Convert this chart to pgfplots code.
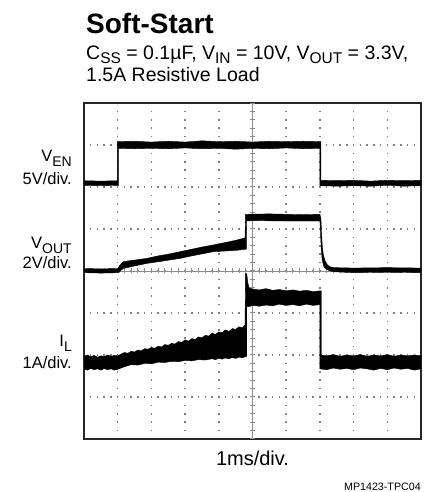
\documentclass[border=0pt]{standalone}
\usepackage{fontspec}
\setmainfont{Liberation Sans}
\usepackage{pgfplots}
\pgfplotsset{compat=1.18}
\newcommand\fs[1]{\fontsize{#1bp}{#1bp}\selectfont}
\newcommand\subA[1]{\raisebox{-4bp}{\fs{15.5}#1}}
\newcommand\subB[1]{\raisebox{-4.5bp}{\fs{14}#1}}
\begin{document}
\begin{tikzpicture}
\path[use as bounding box] (0,0) rectangle (448bp,492bp);
% titles
\node[anchor=base west, inner sep=0] at (86bp,458.7bp) {\fs{28}\bfseries Soft-Start};
\node[anchor=base west, inner sep=0] at (86bp,432.7bp) {\fs{19.5}C\subA{SS} = 0.1µF, V\subA{IN} = 10V, V\subA{OUT} = 3.3V,};
\node[anchor=base west, inner sep=0] at (86bp,410.3bp) {\fs{19.5}1.5A Resistive Load};
% side labels
\node[anchor=base east, inner sep=0] at (72bp,330.3bp) {\fs{16.5}V\subB{EN}};
\node[anchor=base east, inner sep=0] at (72bp,307bp) {\fs{16.5}5V/div.};
\node[anchor=base east, inner sep=0] at (72bp,243bp) {\fs{16.5}V\subB{OUT}};
\node[anchor=base east, inner sep=0] at (72bp,223.2bp) {\fs{16.5}2V/div.};
\node[anchor=base east, inner sep=0] at (72bp,145.3bp) {\fs{16.5}I\subB{L}};
\node[anchor=base east, inner sep=0] at (72bp,123.7bp) {\fs{16.5}1A/div.};
\node[anchor=base, inner sep=0] at (252.5bp,27bp) {\fs{20}1ms/div.};
\node[anchor=base east, inner sep=0] at (421bp,1.5bp) {\fs{10.7}MP1423-TPC04};
\begin{axis}[at={(84bp,53bp)}, anchor=south west, scale only axis,
  width=337bp, height=336bp, xmin=0, xmax=10, ymin=0, ymax=8,
  xtick={1,...,9}, ytick={1,...,7}, xticklabels={}, yticklabels={},
  tick style={draw=none}, major tick length=0pt, grid=major,
  major x grid style={black!50, line width=1.5bp, dash pattern=on 1.5bp off 6.9bp, dash phase=0.75bp},
  major y grid style={black!50, line width=1.5bp, dash pattern=on 1.5bp off 5.24bp, dash phase=0.75bp},
  axis line style={black!85, line width=2bp}]
% centre graticule
\draw[black!45, line width=0.7bp] (axis cs:0,4) -- (axis cs:10,4);
\draw[black!45, line width=5bp, dash pattern=on 1bp off 5.74bp, dash phase=0.5bp] (axis cs:0,4) -- (axis cs:10,4);
\draw[black!45, line width=0.7bp] (axis cs:5,0) -- (axis cs:5,8);
\draw[black!45, line width=5bp, dash pattern=on 1bp off 7.4bp, dash phase=0.5bp] (axis cs:5,0) -- (axis cs:5,8);
% V_EN
\addplot[fill=black, draw=black, line width=0.4bp] coordinates {
(0,6.15)(0.5,6.14)(0.99,6.15)(0.99,7.08)(1.5,7.09)(2,7.07)(2.5,7.09)(3,7.07)(3.5,7.10)(4,7.08)(4.5,7.09)(5,7.07)(5.5,7.09)(6,7.08)(6.5,7.09)(7.03,7.08)
(7.03,6.16)(7.5,6.15)(8,6.16)(8.5,6.14)(9,6.16)(9.5,6.15)(10,6.16)
(10,6.03)(9.5,6.02)(9,6.04)(8.5,6.02)(8,6.03)(7.5,6.02)(7.0,6.03)
(7.0,6.92)(6.5,6.91)(6,6.93)(5.5,6.91)(5,6.92)(4.5,6.90)(4,6.92)(3.5,6.91)(3,6.93)(2.5,6.91)(2,6.92)(1.5,6.91)(1.03,6.92)
(1.03,6.04)(0.5,6.03)(0,6.04)} -- cycle;
% V_OUT
\addplot[fill=black, draw=black, line width=0.4bp] coordinates {
(0,4.06)(0.5,4.05)(1.0,4.06)(1.05,4.12)(1.1,4.17)(1.17,4.22)(1.3,4.24)(1.5,4.26)(1.86,4.30)(2.2,4.36)(2.5,4.40)(2.85,4.46)(3.2,4.52)(3.5,4.57)(3.84,4.62)(4.2,4.68)(4.5,4.73)(4.78,4.79)
(4.79,5.35)(5.5,5.36)(6.5,5.34)(7.0,5.35)(7.03,5.25)(7.05,4.9)(7.07,4.6)(7.1,4.4)(7.15,4.25)(7.22,4.15)(7.3,4.1)(7.45,4.08)(8,4.07)(9,4.08)(10,4.07)
(10,3.96)(9,3.97)(8,3.96)(7.45,3.98)(7.3,4.0)(7.2,4.04)(7.12,4.1)(7.07,4.25)(7.04,4.5)(7.02,4.9)(7.0,5.19)(6,5.19)(5,5.2)(4.82,5.19)
(4.82,4.52)(4.5,4.49)(3.84,4.46)(3.2,4.36)(2.85,4.30)(2.2,4.22)(1.86,4.18)(1.5,4.12)(1.17,4.06)(1.1,4.02)(1.03,3.96)(0.5,3.95)(0,3.96)} -- cycle;
% I_L
\addplot[fill=black, draw=black, line width=0.4bp] coordinates {
(0,1.97)(0.1,2.0)(0.2,1.96)(0.3,1.99)(0.4,1.95)(0.5,1.98)(0.6,1.96)(0.7,2.0)(0.8,1.97)(0.9,1.99)(1.0,1.98)
(1.1,2.02)(1.2,2.06)(1.3,2.04)(1.4,2.09)(1.5,2.07)(1.6,2.12)(1.7,2.10)(1.8,2.15)(1.9,2.14)(2.0,2.18)(2.1,2.16)(2.2,2.21)(2.3,2.19)(2.4,2.25)(2.5,2.23)(2.6,2.28)(2.7,2.26)(2.8,2.32)(2.9,2.30)(3.0,2.36)(3.1,2.33)(3.2,2.39)(3.3,2.37)(3.4,2.43)(3.5,2.41)(3.6,2.47)(3.7,2.45)(3.8,2.52)(3.9,2.49)(4.0,2.55)(4.1,2.53)(4.2,2.60)(4.3,2.56)(4.4,2.63)(4.5,2.61)(4.6,2.67)(4.7,2.65)(4.78,2.72)
(4.79,3.94)(4.83,3.94)(4.86,3.72)(4.9,3.60)(5.0,3.57)(5.2,3.55)(5.4,3.58)(5.6,3.54)(5.8,3.56)(6.0,3.53)(6.2,3.55)(6.4,3.52)(6.6,3.54)(6.8,3.51)(7.04,3.53)
(7.04,2.0)(7.2,1.98)(7.4,2.01)(7.6,1.97)(7.8,2.0)(8.0,1.98)(8.2,2.01)(8.4,1.97)(8.6,2.0)(8.8,1.98)(9.0,2.01)(9.2,1.97)(9.4,2.0)(9.6,1.98)(9.8,2.0)(10,1.98)
(10,1.67)(9.8,1.64)(9.6,1.68)(9.4,1.66)(9.2,1.69)(9.0,1.65)(8.8,1.68)(8.6,1.64)(8.4,1.67)(8.2,1.69)(8.0,1.65)(7.8,1.68)(7.6,1.66)(7.4,1.69)(7.2,1.65)(7.0,1.67)
(7.0,3.2)(6.8,3.18)(6.6,3.21)(6.4,3.17)(6.2,3.20)(6.0,3.18)(5.8,3.21)(5.6,3.17)(5.4,3.19)(5.2,3.16)(5.0,3.18)(4.9,3.15)(4.83,3.15)
(4.83,1.97)(4.78,1.96)(4.7,1.93)(4.6,1.95)(4.5,1.92)(4.4,1.94)(4.3,1.91)(4.2,1.93)(4.1,1.90)(4.0,1.92)(3.9,1.89)(3.8,1.91)(3.6,1.88)(3.4,1.89)(3.2,1.86)(3.0,1.87)(2.8,1.84)(2.6,1.85)(2.4,1.82)(2.2,1.83)(2.0,1.79)(1.8,1.80)(1.6,1.76)(1.4,1.77)(1.2,1.72)(1.0,1.66)
(0.9,1.64)(0.8,1.67)(0.7,1.65)(0.6,1.68)(0.5,1.64)(0.4,1.67)(0.3,1.65)(0.2,1.68)(0.1,1.64)(0,1.66)} -- cycle;
\end{axis}
\end{tikzpicture}
\end{document}
